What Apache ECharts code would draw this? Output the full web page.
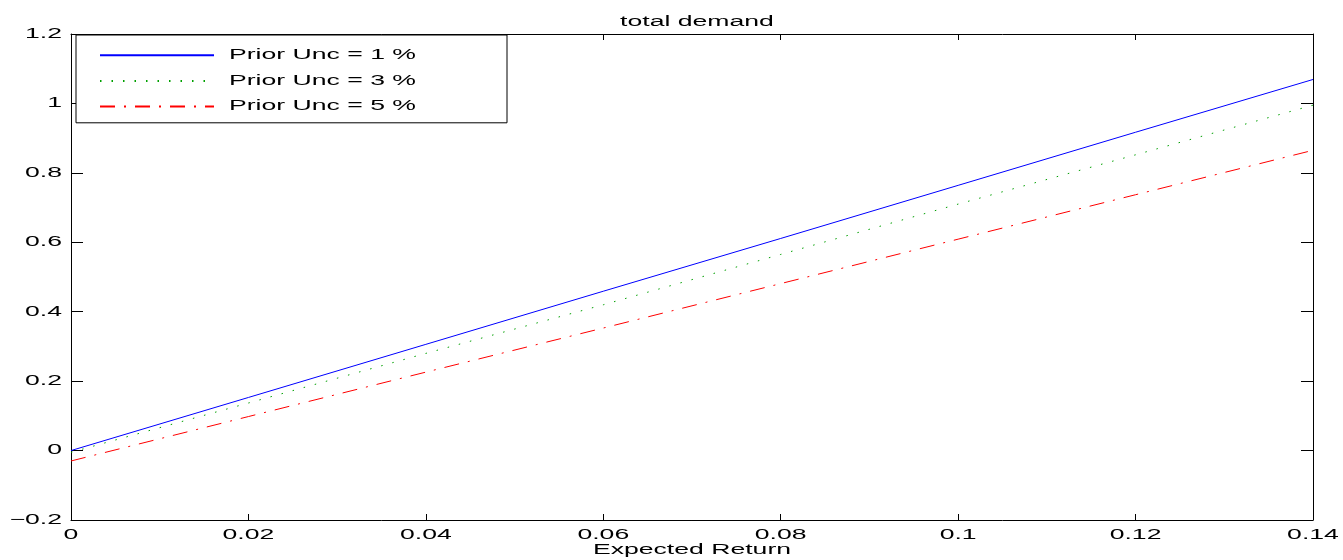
<!DOCTYPE html>
<html>
<head>
<meta charset="utf-8">
<script src="https://cdn.jsdelivr.net/npm/echarts@6/dist/echarts.min.js"></script>
<style>
html,body{margin:0;padding:0;background:#fff;}
#chart{width:1343px;height:560px;}
</style>
</head>
<body>
<div id="chart"></div>
<script>
// Data
const xValues = [0, 0.02, 0.04, 0.06, 0.08, 0.10, 0.12, 0.14];
const unc1 = [0.000, 0.153, 0.306, 0.459, 0.611, 0.764, 0.917, 1.069];
const unc3 = [-0.005, 0.137, 0.280, 0.420, 0.565, 0.710, 0.852, 0.995];
const unc5 = [-0.030, 0.098, 0.226, 0.353, 0.481, 0.609, 0.737, 0.865];
const seriesNames = ['Prior Unc = 1 %', 'Prior Unc = 3 %', 'Prior Unc = 5 %'];
const titleText = 'total demand';
const xAxisName = 'Expected Return';

// The reference's text glyphs are horizontally stretched; reproduce that.
const SX = 1.9;
(function(){
  const p = CanvasRenderingContext2D.prototype;
  const f = p.fillText, s = p.strokeText, m = p.measureText;
  p.fillText = function(t, x, y){ this.save(); this.translate(x, y); this.scale(SX, 1); f.call(this, t, 0, 0); this.restore(); };
  p.strokeText = function(t, x, y){ this.save(); this.translate(x, y); this.scale(SX, 1); s.call(this, t, 0, 0); this.restore(); };
  p.measureText = function(t){
    const r = m.call(this, t);
    return {
      width: r.width * SX,
      actualBoundingBoxLeft: r.actualBoundingBoxLeft * SX,
      actualBoundingBoxRight: r.actualBoundingBoxRight * SX,
      actualBoundingBoxAscent: r.actualBoundingBoxAscent,
      actualBoundingBoxDescent: r.actualBoundingBoxDescent,
      fontBoundingBoxAscent: r.fontBoundingBoxAscent,
      fontBoundingBoxDescent: r.fontBoundingBoxDescent
    };
  };
})();

const pair = (ys) => xValues.map((x, i) => [x, ys[i]]);
const FONT = 'Liberation Sans';
const txt = {fontFamily: FONT, fontSize: 14, color: '#000'};
const boxLine = {show: true, onZero: false, lineStyle: {color: '#000', width: 1}};

const chart = echarts.init(document.getElementById('chart'), null, {renderer: 'canvas'});
chart.setOption({
  animation: false,
  backgroundColor: '#fff',
  textStyle: {fontFamily: FONT},
  title: {
    text: titleText,
    left: 692, top: 4, textAlign: 'center',
    textStyle: Object.assign({fontWeight: 'normal'}, txt)
  },
  grid: {left: 71, top: 34, right: 30, bottom: 40, outerBoundsMode: 'none', containLabel: false},
  legend: {
    orient: 'vertical', left: 76, top: 35,
    padding: [7, 91, 3, 23],
    itemGap: -1, itemWidth: 114, itemHeight: 14,
    backgroundColor: '#fff', borderColor: '#000', borderWidth: 1,
    itemStyle: {opacity: 0},
    textStyle: Object.assign({padding: [0, 0, 0, 10]}, txt),
    data: seriesNames
  },
  xAxis: [{
    type: 'value', min: 0, max: 0.14, interval: 0.02, position: 'bottom',
    name: xAxisName, nameLocation: 'middle', nameGap: 17, nameMoveOverlap: false, nameTextStyle: txt,
    axisLine: boxLine,
    axisTick: {show: true, inside: true, length: 6, lineStyle: {color: '#000'}},
    axisLabel: Object.assign({margin: 2, formatter: v => String(+v.toFixed(2))}, txt),
    splitLine: {show: false}
  }, {
    type: 'value', min: 0, max: 0.14, interval: 0.02, position: 'top',
    axisLine: boxLine,
    axisTick: {show: true, inside: true, length: 6, lineStyle: {color: '#000'}},
    axisLabel: {show: false}, splitLine: {show: false}
  }],
  yAxis: [{
    type: 'value', min: -0.2, max: 1.2, interval: 0.2, position: 'left',
    axisLine: boxLine,
    axisTick: {show: true, inside: true, length: 12, lineStyle: {color: '#000'}},
    axisLabel: Object.assign({margin: 9, formatter: v => String(+v.toFixed(1)).replace('-', '\u2212')}, txt),
    splitLine: {show: false}
  }, {
    type: 'value', min: -0.2, max: 1.2, interval: 0.2, position: 'right',
    axisLine: boxLine,
    axisTick: {show: true, inside: true, length: 12, lineStyle: {color: '#000'}},
    axisLabel: {show: false}, splitLine: {show: false}
  }],
  series: [{
    name: seriesNames[0], type: 'line', data: pair(unc1), symbol: 'none',
    color: '#0000ff', lineStyle: {color: '#0000ff', width: 1, type: 'solid'}
  }, {
    name: seriesNames[1], type: 'line', data: pair(unc3), symbol: 'none',
    color: '#00a000', lineStyle: {color: '#00a000', width: 1, type: [1.5, 10]}
  }, {
    name: seriesNames[2], type: 'line', data: pair(unc5), symbol: 'none',
    color: '#ff0000', lineStyle: {color: '#ff0000', width: 1, type: [15, 9, 2, 9]}
  }]
});
</script>
</body>
</html>
